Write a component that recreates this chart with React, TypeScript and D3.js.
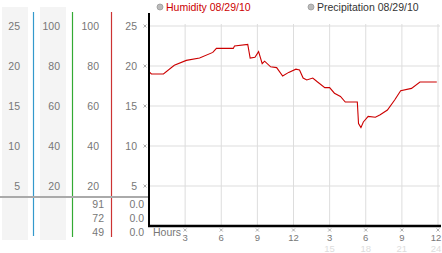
import React from "react";
import * as d3 from "d3";

const hours = [0, 0.2, 0.5, 1.2, 2.1, 3.1, 4.2, 5.3, 5.6, 7.0, 7.1, 8.2, 8.4, 8.8, 9.1, 9.4, 9.6, 10.1, 10.6, 11.1, 11.6, 12.2, 12.5, 12.8, 13.1, 13.6, 14.0, 14.6, 15.0, 15.4, 15.9, 16.3, 17.3, 17.4, 17.6, 17.8, 18.2, 18.8, 19.2, 19.8, 20.4, 20.9, 21.8, 22.5, 23.9];
const humidity = [19.3, 19.0, 19.0, 19.0, 20.1, 20.7, 21.0, 21.7, 22.2, 22.2, 22.5, 22.7, 21.0, 21.1, 21.8, 20.3, 20.6, 19.9, 19.8, 18.75, 19.2, 19.6, 19.5, 18.5, 18.25, 18.5, 18.0, 17.3, 17.3, 16.6, 16.2, 15.5, 15.5, 12.8, 12.3, 13.0, 13.7, 13.6, 13.9, 14.5, 15.75, 16.9, 17.2, 18.0, 18.0];

const yTicks = [25, 20, 15, 10, 5];
const col1Labels = ["25", "20", "15", "10", "5"];
const col2Labels = ["100", "80", "60", "40", "20"];
const col3Labels = ["100", "80", "60", "40", "20"];
const col4Labels = ["25", "20", "15", "10", "5"];
const bottomVals3 = ["91", "72", "49"];
const bottomVals4 = ["0.0", "0.0", "0.0"];
const xTicks = [3, 6, 9, 12, 15, 18, 21, 24];
const xTickLabels = ["3", "6", "9", "12", "3", "6", "9", "12"];
const xSubLabels = ["", "", "", "", "15", "18", "21", "24"];

const font = "Liberation Sans, Arial, sans-serif";

function Mark({ x, y }: { x: number; y: number }) {
  return (
    <g stroke="#999" strokeWidth={0.8}>
      <line x1={x - 1.5} y1={y - 1.5} x2={x + 1.5} y2={y + 1.5} />
      <line x1={x - 1.5} y1={y + 1.5} x2={x + 1.5} y2={y - 1.5} />
    </g>
  );
}

export default function App() {
  const x = d3.scaleLinear().domain([0, 24]).range([149, 438]);
  const y = d3.scaleLinear().domain([0, 25]).range([226, 26]);
  const pts = hours.map((h, i) => [x(h), y(humidity[i])] as [number, number]);
  const line = d3.line().curve(d3.curveLinear)(pts) || "";
  const fs = 10.5;
  const fx = 9.5;
  return (
    <svg width={442} height={253} style={{ position: "absolute", left: 0, top: 0, background: "#fff" }} fontFamily={font}>
      <rect x={2} y={7} width={26} height={233} fill="#f4f4f4" />
      <rect x={40} y={7} width={26} height={233} fill="#f4f4f4" />
      <line x1={33.5} y1={12} x2={33.5} y2={236} stroke="#3399cc" strokeWidth={1.2} />
      <line x1={72.5} y1={12} x2={72.5} y2={237} stroke="#33aa33" strokeWidth={1.2} />
      <line x1={111.5} y1={12} x2={111.5} y2={237} stroke="#cc3333" strokeWidth={1.2} />
      <line x1={0} y1={197} x2={149} y2={197} stroke="#aaa" strokeWidth={2} />
      {yTicks.map((t, i) => (
        <g key={t} fontSize={fs} fill="#777" textAnchor="end" dominantBaseline="central">
          <text x={20} y={y(t)}>{col1Labels[i]}</text>
          <text x={60} y={y(t)}>{col2Labels[i]}</text>
          <text x={99} y={y(t)}>{col3Labels[i]}</text>
          <text x={137} y={y(t)}>{col4Labels[i]}</text>
          <Mark x={145} y={y(t)} />
        </g>
      ))}
      {bottomVals3.map((v, i) => (
        <g key={i} fontSize={fs} fill="#777" textAnchor="end" dominantBaseline="central">
          <text x={104} y={204 + i * 14}>{v}</text>
          <text x={144} y={204 + i * 14}>{bottomVals4[i]}</text>
        </g>
      ))}
      {yTicks.map((t) => (
        <line key={"g" + t} x1={149} x2={440} y1={y(t)} y2={y(t)} stroke="#ddd" />
      ))}
      {xTicks.map((t) => (
        <line key={"v" + t} x1={x(t)} x2={x(t)} y1={24} y2={226} stroke="#ddd" />
      ))}
      <path d={line} fill="none" stroke="#cc0000" strokeWidth={1.1} />
      <line x1={149} y1={13} x2={149} y2={227} stroke="#000" strokeWidth={2} />
      <line x1={148} y1={226} x2={441} y2={226} stroke="#000" strokeWidth={2.5} />
      <text x={153} y={232} fontSize={fs} fill="#777" dominantBaseline="central">Hours</text>
      {xTicks.map((t, i) => (
        <g key={"x" + t} fontSize={fx} textAnchor="middle">
          <Mark x={x(t)} y={230} />
          <text x={i === 7 ? 436 : x(t)} y={237.5} fill="#777" dominantBaseline="central">{xTickLabels[i]}</text>
          {xSubLabels[i] && (
            <text x={i === 7 ? 436 : x(t)} y={248} fill="#ddd" dominantBaseline="central">{xSubLabels[i]}</text>
          )}
        </g>
      ))}
      <circle cx={160} cy={7} r={3} fill="#bbb" stroke="#999" strokeWidth={0.8} />
      <text x={166} y={7} fontSize={fs} fill="#cc0000" dominantBaseline="central">Humidity 08/29/10</text>
      <circle cx={311} cy={7} r={3} fill="#bbb" stroke="#999" strokeWidth={0.8} />
      <text x={317} y={7} fontSize={fs} fill="#333" dominantBaseline="central">Precipitation 08/29/10</text>
    </svg>
  );
}
